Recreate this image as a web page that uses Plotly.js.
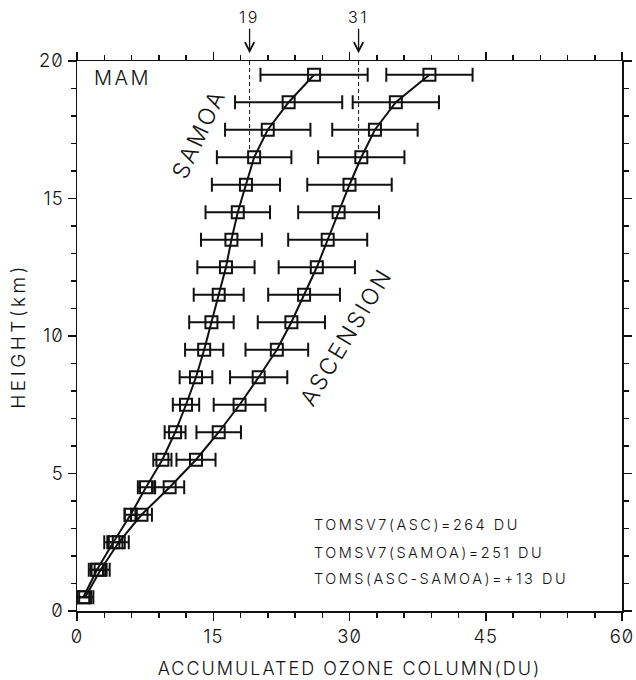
<!DOCTYPE html>
<html>
<head>
<meta charset="utf-8">
<script src="https://cdn.plot.ly/plotly-3.0.1.min.js"></script>
<style>
  html, body { margin: 0; padding: 0; background: #fff; }
  #chart { width: 636px; height: 680px; }
  .js-plotly-plot text { font-feature-settings: "zero" 1; }
  .xtick text, .ytick text { letter-spacing: 1px; }
  .annotation-text { letter-spacing: 2.5px; }
  .xtitle { letter-spacing: 2px; }
  .ytitle { letter-spacing: 3.5px; }
</style>
</head>
<body>
<div id="chart"></div>
<script>
// Heights (km) of the layer mid-points
const heights = [0.5, 1.5, 2.5, 3.5, 4.5, 5.5, 6.5, 7.5, 8.5, 9.5,
                 10.5, 11.5, 12.5, 13.5, 14.5, 15.5, 16.5, 17.5, 18.5, 19.5];

// Samoa accumulated ozone column (DU) and error half-width
const samoaX   = [0.7, 2.2, 4.0, 5.9, 7.6, 9.4, 10.8, 12.0, 13.1, 14.0,
                  14.8, 15.6, 16.4, 17.0, 17.7, 18.6, 19.5, 21.0, 23.3, 26.1];
const samoaErr = [0.7, 0.9, 1.0, 0.65, 0.9, 1.0, 1.15, 1.45, 1.8, 2.1,
                  2.45, 2.75, 3.15, 3.35, 3.55, 3.75, 4.1, 4.7, 5.9, 5.9];

// Ascension accumulated ozone column (DU) and error half-width
const ascX   = [0.9, 2.6, 4.6, 7.1, 10.2, 13.1, 15.6, 17.9, 20.0, 22.0,
                23.6, 25.0, 26.4, 27.6, 28.8, 30.0, 31.3, 32.8, 35.1, 38.8];
const ascErr = [0.9, 1.0, 1.1, 1.15, 1.6, 2.15, 2.45, 2.85, 3.15, 3.45,
                3.7, 3.95, 4.2, 4.35, 4.45, 4.65, 4.75, 4.7, 4.75, 4.75];

// Reference values marked at the top (DU at 20 km) and where the dashed lines end
const refX = [19, 31];
const refLabels = ['19', '31'];
const refBottom = 16.8;
const topHeight = 20;

// Axis ticks
const xTicks = [0, 15, 30, 45, 60];
const yTicks = [0, 5, 10, 15, 20];

// Text notes
const noteLines = ['TOMSV7(ASC)=264 DU', 'TOMSV7(SAMOA)=251 DU', 'TOMS(ASC-SAMOA)=+13 DU'];
const noteX = 25.9;
const noteY = [3.13, 2.11, 1.17];

const FONT = 'Inter, "DejaVu Sans", sans-serif';
const INK = '#111';

function profileTrace(xs, errs, name) {
  return {
    type: 'scatter', mode: 'lines+markers', name: name,
    x: xs, y: heights,
    line: { color: INK, width: 2 },
    marker: { symbol: 'square-open', size: 12, color: INK, line: { width: 2, color: INK } },
    error_x: { type: 'data', array: errs, visible: true, color: INK, thickness: 2, width: 7 },
    cliponaxis: false,
    showlegend: false
  };
}

const traces = [];
refX.forEach(function (v) {
  traces.push({
    type: 'scatter', mode: 'lines', x: [v, v], y: [refBottom, topHeight],
    line: { color: INK, width: 1, dash: '4px,3px' }, showlegend: false, hoverinfo: 'skip'
  });
});
traces.push(profileTrace(samoaX, samoaErr, 'SAMOA'));
traces.push(profileTrace(ascX, ascErr, 'ASCENSION'));

const annotations = [];
refX.forEach(function (v, i) {
  annotations.push({
    x: v, xref: 'x', y: 1.014, yref: 'paper',
    text: refLabels[i], showarrow: true, arrowhead: 5, arrowsize: 1.4, arrowwidth: 1.3,
    arrowcolor: INK, ax: 0, ay: -36, font: { family: FONT, size: 16, color: INK, weight: 300 }
  });
});
annotations.push({
  x: 1.7, y: 19.4, xref: 'x', yref: 'y', text: 'MAM', showarrow: false,
  xanchor: 'left', yanchor: 'middle', font: { family: FONT, size: 20, color: INK, weight: 300 }
});
annotations.push({
  x: 13.4, y: 17.35, xref: 'x', yref: 'y', text: 'SAMOA', showarrow: false, textangle: -65,
  font: { family: FONT, size: 23, color: INK, weight: 300 }
});
annotations.push({
  x: 29.6, y: 9.98, xref: 'x', yref: 'y', text: 'ASCENSION', showarrow: false, textangle: -59,
  font: { family: FONT, size: 23, color: INK, weight: 300 }
});
noteLines.forEach(function (t, i) {
  annotations.push({
    x: noteX, y: noteY[i], xref: 'x', yref: 'y', text: t, showarrow: false,
    xanchor: 'left', yanchor: 'middle', font: { family: FONT, size: 14.5, color: INK, weight: 300 }
  });
});

const axisCommon = {
  showgrid: false, zeroline: false, showline: true, linecolor: INK, linewidth: 1.5,
  ticks: 'outside', ticklen: 8, tickwidth: 1.5, tickcolor: INK, mirror: 'ticks',
  tickfont: { family: FONT, size: 18.5, color: INK, weight: 300 },
  tickmode: 'array', ticklabeloverflow: 'allow'
};

const layout = {
  width: 636, height: 680,
  margin: { l: 77, r: 14, t: 61, b: 69 },
  paper_bgcolor: '#fff', plot_bgcolor: '#fff',
  font: { family: FONT, color: INK },
  xaxis: Object.assign({}, axisCommon, {
    range: [0, 60], tickvals: xTicks, ticktext: xTicks.map(String),
    minor: { dtick: 3, ticks: 'outside', ticklen: 5, tickwidth: 1.5, tickcolor: INK },
    title: { text: 'ACCUMULATED OZONE COLUMN(DU)', standoff: 16,
             font: { family: FONT, size: 18, color: INK, weight: 300 } }
  }),
  yaxis: Object.assign({}, axisCommon, {
    range: [0, 20], tickvals: yTicks, ticktext: yTicks.map(String),
    minor: { dtick: 1, ticks: 'outside', ticklen: 5, tickwidth: 1.5, tickcolor: INK },
    title: { text: 'HEIGHT(km)', standoff: 8,
             font: { family: FONT, size: 19, color: INK, weight: 300 } }
  }),
  annotations: annotations,
  showlegend: false
};

Plotly.newPlot('chart', traces, layout, { staticPlot: true, displayModeBar: false });
</script>
</body>
</html>
